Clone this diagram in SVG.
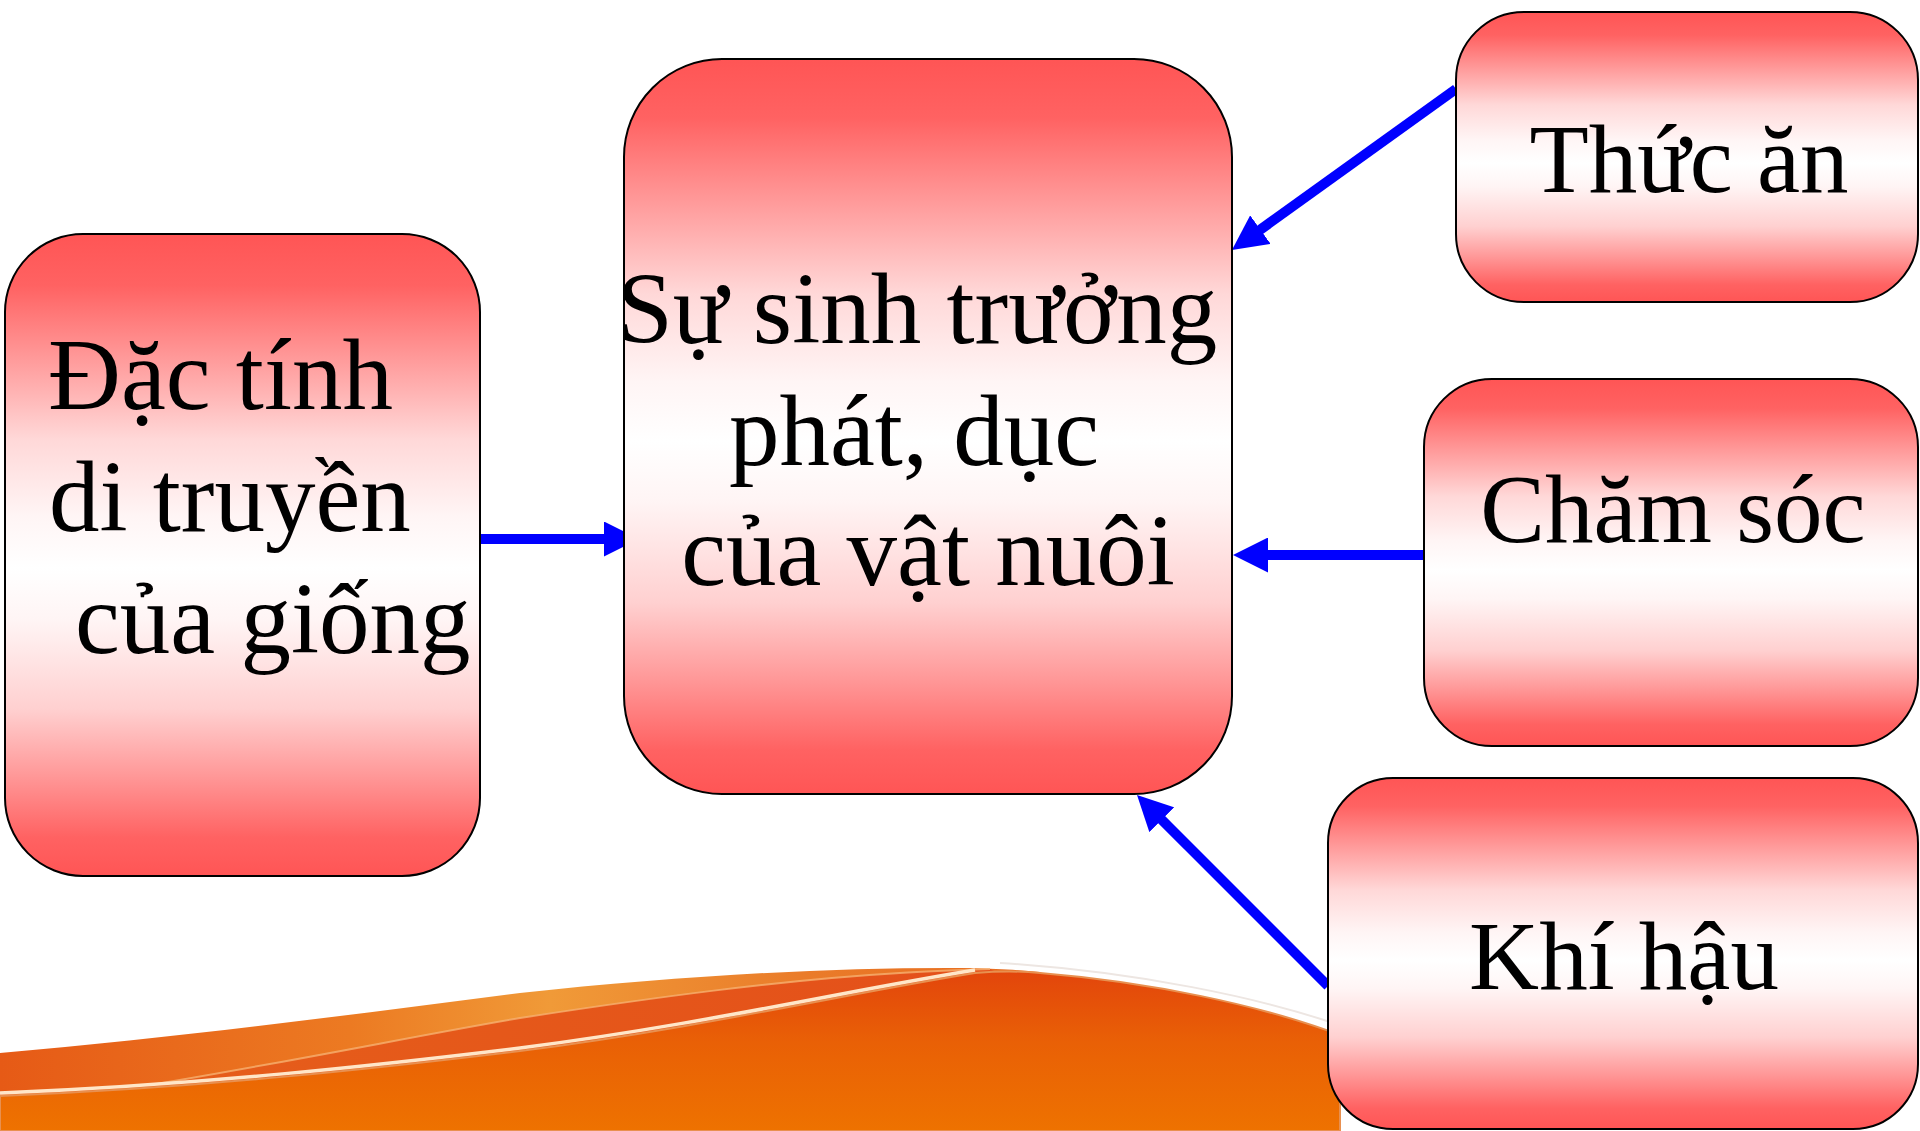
<svg xmlns="http://www.w3.org/2000/svg" width="1920" height="1131" viewBox="0 0 1920 1131">
<defs>
<linearGradient id="boxfill" x1="0" y1="0" x2="0" y2="1">
<stop offset="0" stop-color="#FF5555"/>
<stop offset="0.08" stop-color="#FF6262"/>
<stop offset="0.17" stop-color="#FF8E8E"/>
<stop offset="0.25" stop-color="#FFB5B5"/>
<stop offset="0.32" stop-color="#FFD8D8"/>
<stop offset="0.44" stop-color="#FFF5F5"/>
<stop offset="0.52" stop-color="#FFFFFF"/>
<stop offset="0.6" stop-color="#FFF5F5"/>
<stop offset="0.74" stop-color="#FFD0D0"/>
<stop offset="0.84" stop-color="#FF9A9A"/>
<stop offset="0.94" stop-color="#FF6262"/>
<stop offset="1" stop-color="#FF5555"/>
</linearGradient>
<linearGradient id="band" gradientUnits="userSpaceOnUse" x1="0" y1="0" x2="1000" y2="0">
<stop offset="0" stop-color="#E65A16"/>
<stop offset="0.35" stop-color="#EC7A22"/>
<stop offset="0.55" stop-color="#F09A38"/>
<stop offset="0.8" stop-color="#EA7C2A"/>
<stop offset="1" stop-color="#E86E20"/>
</linearGradient>
<linearGradient id="dark" gradientUnits="userSpaceOnUse" x1="0" y1="0" x2="1000" y2="0">
<stop offset="0" stop-color="#E6601A"/>
<stop offset="1" stop-color="#E4501A"/>
</linearGradient>
<linearGradient id="body" gradientUnits="userSpaceOnUse" x1="0" y1="968" x2="0" y2="1131">
<stop offset="0" stop-color="#E2440C"/>
<stop offset="0.45" stop-color="#E96006"/>
<stop offset="1" stop-color="#EE7200"/>
</linearGradient>
<marker id="ah" markerUnits="userSpaceOnUse" viewBox="0 0 35 35" markerWidth="35" markerHeight="35" refX="6" refY="17.5" orient="auto">
<path d="M0,0 L35,17.5 L0,35 Z" fill="#0000FF"/>
</marker>
<style>
.box{fill:url(#boxfill);stroke:#000;stroke-width:2}
.t{font-family:"Liberation Serif","Times New Roman",serif;font-size:101px;fill:#000}
.s{font-size:97px}
.c{text-anchor:middle}
.arr{stroke:#0000FF;stroke-width:10;fill:none;marker-end:url(#ah)}
</style>
</defs>
<rect width="1920" height="1131" fill="#FFFFFF"/>
<g id="background">
<path d="M0,1053 C180,1037 350,1015 520,993 C680,976 830,967 970,968 C1000,969 1020,970 1040,972 L1340,1131 L0,1131 Z" fill="url(#band)"/>
<path d="M0,1096 L150,1085 C300,1060 420,1035 520,1018 C650,998 780,980 900,973 C930,971 960,970 990,969 L1340,1131 L0,1131 Z" fill="url(#dark)"/>
<path d="M150,1085 C300,1060 420,1035 520,1018 C650,998 780,980 900,973 C930,971 960,970 990,969" fill="none" stroke="#F6B070" stroke-width="2" opacity="0.8"/>
<path d="M1000,963 C1140,972 1260,998 1336,1024" fill="none" stroke="#EDE6E2" stroke-width="2"/>
<path d="M0,1096 C200,1088 380,1068 520,1051 C700,1028 850,993 975,973 C1000,971 1020,971 1040,973 C1150,982 1260,1005 1340,1035 L1340,1131 L0,1131 Z" fill="url(#body)" stroke="#E89050" stroke-width="2"/>
<path d="M0,1093 C200,1085 380,1065 520,1048 C700,1025 850,990 975,970" fill="none" stroke="#FFE6C8" stroke-width="3.5"/>
</g>
<g id="connectors">
<line class="arr" x1="480" y1="539" x2="610" y2="539"/>
<line class="arr" x1="1456" y1="89" x2="1255.5" y2="233.1"/>
<line class="arr" x1="1424" y1="555" x2="1262" y2="555"/>
<line class="arr" x1="1328" y1="986" x2="1157.5" y2="815.5"/>
</g>
<g id="node-dac-tinh">
<rect class="box" x="5" y="234" width="475" height="642" rx="78" ry="78"/>
<text class="t" x="48" y="409">Đặc tính</text>
<text class="t" x="49" y="531">di truyền</text>
<text class="t" x="75" y="653">của giống</text>
</g>
<g id="node-center">
<rect class="box" x="624" y="59" width="608" height="735" rx="98" ry="98"/>
<text class="t c" x="917" y="343">Sự sinh trưởng</text>
<text class="t c" x="914" y="465">phát, dục</text>
<text class="t c" x="928" y="585">của vật nuôi</text>
</g>
<g id="node-thuc-an">
<rect class="box" x="1456" y="12" width="462" height="290" rx="68" ry="68"/>
<text class="t s c" x="1689" y="192">Thức ăn</text>
</g>
<g id="node-cham-soc">
<rect class="box" x="1424" y="379" width="494" height="367" rx="68" ry="68"/>
<text class="t s c" x="1673" y="542">Chăm sóc</text>
</g>
<g id="node-khi-hau">
<rect class="box" x="1328" y="778" width="590" height="351" rx="65" ry="65"/>
<text class="t s c" x="1624" y="989">Khí hậu</text>
</g>
</svg>
